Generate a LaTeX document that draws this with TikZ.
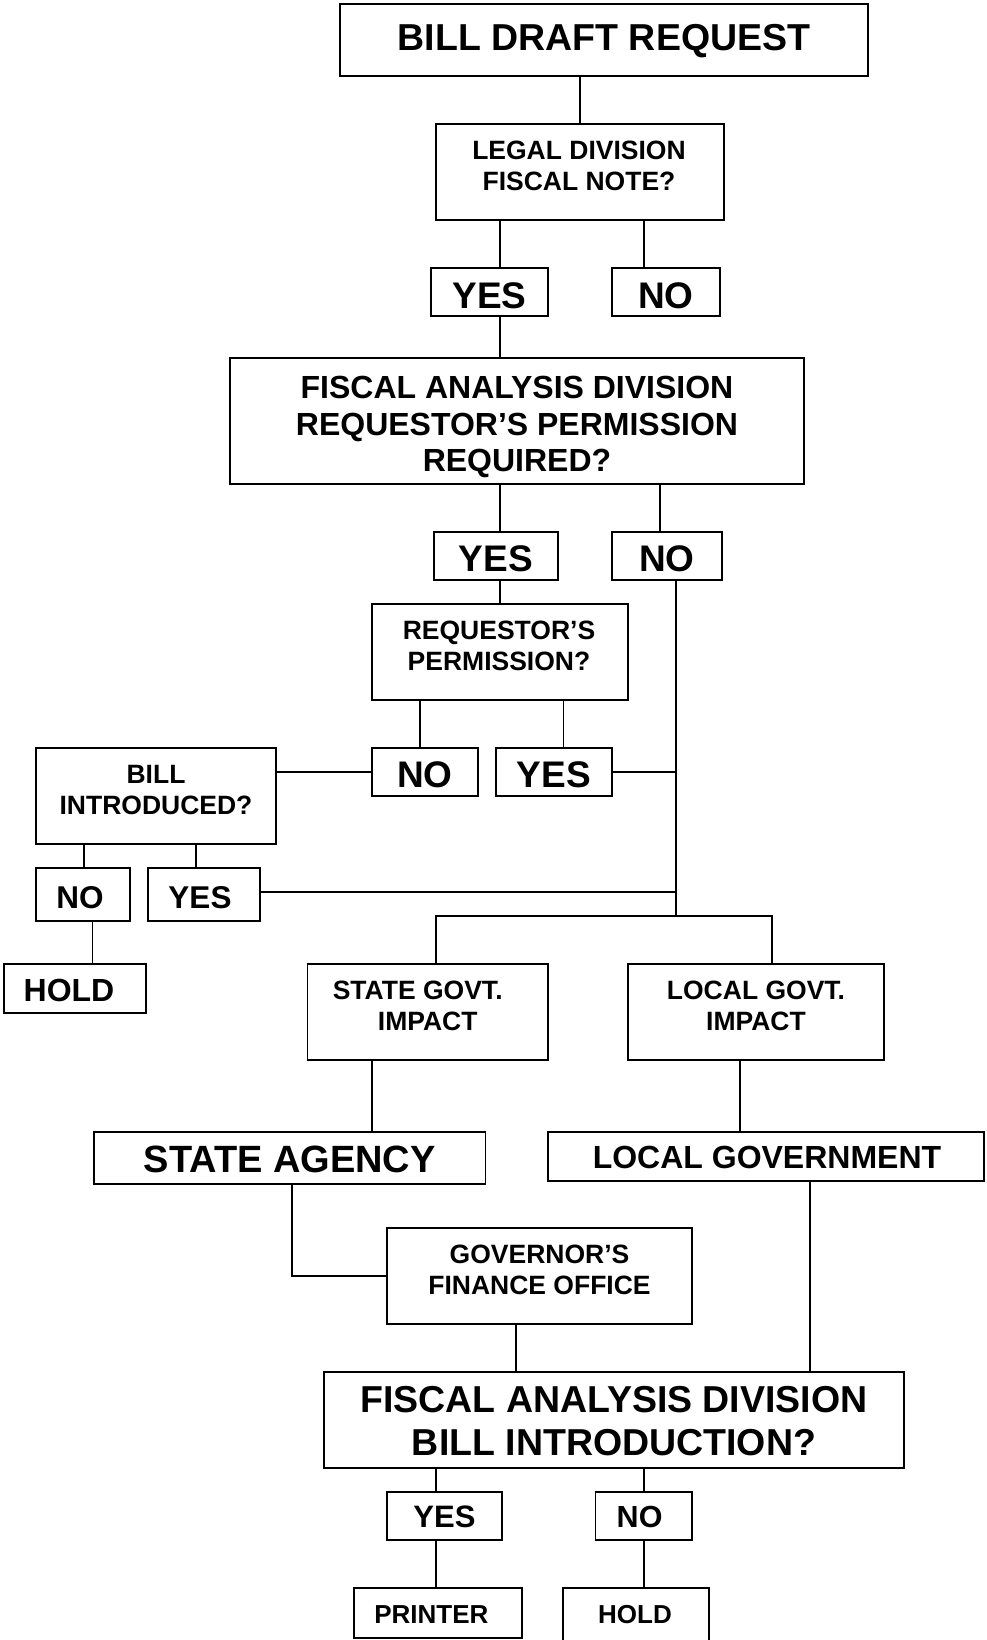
\documentclass[tikz,border=0pt]{standalone}
\usepackage{fontspec}
\setmainfont{Liberation Sans}
\begin{document}
\begin{tikzpicture}[x=1pt,y=-1pt,
  box/.style={draw=black,line width=1.6pt,inner sep=0pt,rectangle},
  lbl/.style 2 args={inner sep=0pt,align=center,font=\bfseries\fontsize{#1}{#2}\selectfont},
  conn/.style={draw=black,line width=1.2pt},
  trunk/.style={draw=black,line width=1.6pt}]
\useasboundingbox (0,0) rectangle (986,1640);
\clip (0,0) rectangle (986,1640);
\fill[white] (0,0) rectangle (986,1640);
% boxes
\node[box,minimum width=528,minimum height=72] (top) at (604,40) {};
\node[box,minimum width=288,minimum height=96] (legal) at (580,172) {};
\node[box,minimum width=117,minimum height=48] (yes1) at (489.5,292) {};
\node[box,minimum width=108,minimum height=48] (no1) at (666,292) {};
\node[box,minimum width=574,minimum height=126] (fad1) at (517,421) {};
\node[box,minimum width=124,minimum height=48] (yes2) at (496,556) {};
\node[box,minimum width=110,minimum height=48] (no2) at (667,556) {};
\node[box,minimum width=256,minimum height=96] (req) at (500,652) {};
\node[box,minimum width=106,minimum height=48] (no3) at (425,772) {};
\node[box,minimum width=116,minimum height=48] (yes3) at (554,772) {};
\node[box,minimum width=240,minimum height=96] (bill) at (156,796) {};
\node[box,minimum width=94,minimum height=53] (no4) at (83,894.5) {};
\node[box,minimum width=112,minimum height=53] (yes4) at (204,894.5) {};
\node[box,minimum width=142,minimum height=49] (hold1) at (75,988.5) {};
\node[box,minimum width=240.5,minimum height=96] (state) at (427.75,1012) {};
\node[box,minimum width=256,minimum height=96] (local) at (756,1012) {};
\node[box,minimum width=391.5,minimum height=52] (stateag) at (289.75,1158) {};
\node[box,minimum width=436,minimum height=49] (localgov) at (766,1156.5) {};
\node[box,minimum width=305,minimum height=96] (gov) at (539.5,1276) {};
\node[box,minimum width=580,minimum height=96] (fad2) at (614,1420) {};
\node[box,minimum width=115,minimum height=48] (yes5) at (444.5,1516) {};
\node[box,minimum width=96.5,minimum height=48] (no5) at (643.75,1516) {};
\node[box,minimum width=168,minimum height=50] (printer) at (438,1613) {};
\node[box,minimum width=146,minimum height=72] (hold2) at (636,1624) {};
% labels
\node[lbl={37.5}{43}] (top-t) at (604,41) {BILL DRAFT REQUEST};
\node[lbl={26.5}{31}] (legal-t) at (579,165.5) {LEGAL DIVISION\\FISCAL NOTE?};
\node[lbl={37}{42}] (yes1-t) at (489.5,296) {YES};
\node[lbl={37}{42}] (no1-t) at (666,296) {NO};
\node[lbl={32}{36.6}] (fad1-t) at (517,427) {FISCAL ANALYSIS DIVISION\\REQUESTOR’S PERMISSION\\REQUIRED?};
\node[lbl={37}{42}] (yes2-t) at (496,559) {YES};
\node[lbl={37}{42}] (no2-t) at (667,559) {NO};
\node[lbl={26.5}{31}] (req-t) at (499,646) {REQUESTOR’S\\PERMISSION?};
\node[lbl={37}{42}] (no3-t) at (425,775) {NO};
\node[lbl={37}{42}] (yes3-t) at (554,775) {YES};
\node[lbl={26.5}{31}] (bill-t) at (156,790) {BILL\\INTRODUCED?};
\node[lbl={31.5}{36}] (no4-t) at (80,898) {NO};
\node[lbl={31.5}{36}] (yes4-t) at (200,898) {YES};
\node[lbl={32}{36}] (hold1-t) at (69,990) {HOLD};
\node[lbl={26.5}{31}] (state-t) at (427.7,1005.6) {STATE GOVT.\kern20pt\\IMPACT};
\node[lbl={26.5}{31}] (local-t) at (756,1005.6) {LOCAL GOVT.\\IMPACT};
\node[lbl={38}{43}] (stateag-t) at (289.75,1159) {STATE AGENCY};
\node[lbl={32}{37}] (localgov-t) at (767,1157) {LOCAL GOVERNMENT};
\node[lbl={26.5}{31}] (gov-t) at (539.5,1269.6) {GOVERNOR’S\\FINANCE OFFICE};
\node[lbl={37.5}{43.5}] (fad2-t) at (614,1421) {FISCAL ANALYSIS DIVISION\\BILL INTRODUCTION?};
\node[lbl={31}{36}] (yes5-t) at (444.5,1516.6) {YES};
\node[lbl={30.5}{36}] (no5-t) at (639.6,1516.6) {NO};
\node[lbl={26}{30}] (printer-t) at (431.4,1615) {PRINTER};
\node[lbl={26}{30}] (hold2-t) at (635,1615) {HOLD};
% connectors
\coordinate (j1) at (676,916);
\draw[conn] (legal.north) -- (legal.north |- top.south);
\draw[conn] (legal.south -| 500,0) -- (yes1.north -| 500,0);
\draw[conn] (legal.south -| 644,0) -- (no1.north -| 644,0);
\draw[conn] (yes1.south -| 500,0) -- (fad1.north -| 500,0);
\draw[conn] (fad1.south -| 500,0) -- (yes2.north -| 500,0);
\draw[conn] (fad1.south -| 660,0) -- (no2.north -| 660,0);
\draw[conn] (yes2.south -| 500,0) -- (req.north -| 500,0);
\draw[trunk] (no2.south -| j1) -- (j1);
\draw[conn] (req.south -| 420,0) -- (no3.north -| 420,0);
\draw[conn] (req.south -| 563.5,0) -- (yes3.north -| 563.5,0);
\draw[conn] (bill.east |- no3.west) -- (no3.west);
\draw[conn] (yes3.east) -- (yes3.east -| j1);
\draw[conn] (bill.south -| 84,0) -- (no4.north -| 84,0);
\draw[conn] (bill.south -| 196,0) -- (yes4.north -| 196,0);
\draw[trunk] (yes4.east |- 0,892) -- (j1 |- 0,892);
\draw[conn] (no4.south -| 92.5,0) -- (hold1.north -| 92.5,0);
\draw[trunk] (state.north -| 436,0) |- (j1) -| (local.north -| 772,0);
\draw[conn] (state.south -| 372,0) -- (stateag.north -| 372,0);
\draw[conn] (local.south -| 740,0) -- (localgov.north -| 740,0);
\draw[conn] (stateag.south -| 292,0) |- (gov.west);
\draw[conn] (gov.south -| 516,0) -- (fad2.north -| 516,0);
\draw[conn] (localgov.south -| 810,0) -- (fad2.north -| 810,0);
\draw[conn] (fad2.south -| 436,0) -- (yes5.north -| 436,0);
\draw[conn] (fad2.south -| 644,0) -- (no5.north -| 644,0);
\draw[conn] (yes5.south -| 436,0) -- (printer.north -| 436,0);
\draw[conn] (no5.south -| 644,0) -- (hold2.north -| 644,0);
\end{tikzpicture}
\end{document}
